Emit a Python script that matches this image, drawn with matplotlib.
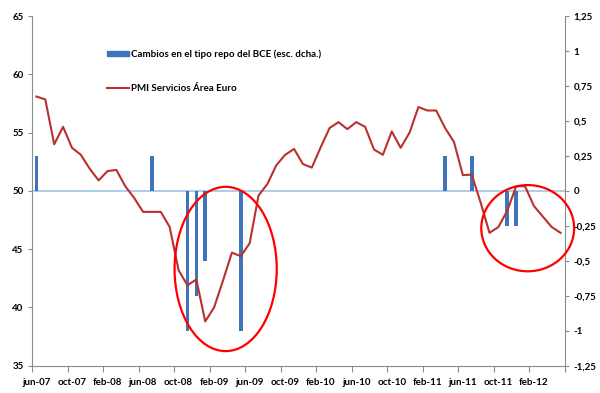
import numpy as np
import pandas as pd
import matplotlib
matplotlib.use("Agg")
import matplotlib.pyplot as plt
from matplotlib.patches import Ellipse, Patch
from matplotlib.lines import Line2D

plt.rcParams['font.family'] = ['Lato', 'DejaVu Sans']

# monthly categories jun-07 .. may-12
months = pd.date_range('2007-06-01', periods=60, freq='MS')

# PMI servicios area euro (left axis)
pmi = [58.1, 57.85, 54.0, 55.5, 53.7, 53.1, 51.9, 50.9, 51.7, 51.8,
       50.4, 49.4, 48.2, 48.2, 48.2, 46.9, 43.2, 41.9, 42.4, 38.8,
       40.0, 42.3, 44.7, 44.4, 45.5, 49.6, 50.6, 52.2, 53.1, 53.6,
       52.3, 52.0, 53.75, 55.4, 55.9, 55.3, 55.9, 55.5, 53.55, 53.1,
       55.1, 53.7, 55.0, 57.2, 56.9, 56.9, 55.4, 54.2, 51.35, 51.4,
       49.0, 46.4, 46.9, 48.3, 50.4, 50.4, 48.7, 47.8, 46.9, 46.4]

# cambios en el tipo repo del BCE (right axis)
bce_months = ['2007-06', '2008-07', '2008-11', '2008-12', '2009-01',
              '2009-05', '2011-04', '2011-07', '2011-11', '2011-12']
bce_changes = [0.25, 0.25, -1.0, -0.75, -0.5, -1.0, 0.25, 0.25, -0.25, -0.25]

tick_labels = ['jun-07', 'oct-07', 'feb-08', 'jun-08', 'oct-08', 'feb-09',
               'jun-09', 'oct-09', 'feb-10', 'jun-10', 'oct-10', 'feb-11',
               'jun-11', 'oct-11', 'feb-12']
right_ticks = [1.25, 1, 0.75, 0.5, 0.25, 0, -0.25, -0.5, -0.75, -1, -1.25]

x = np.arange(len(months))
bar_x = [months.get_loc(pd.Timestamp(m + '-01')) for m in bce_months]

red = '#B8312F'
blue = '#3F74BA'
gray = '#8C8C8C'

fig = plt.figure(figsize=(6.0, 3.93), dpi=100)
ax = fig.add_axes([0.0533, 0.0695, 0.8884, 0.8895])
ax2 = ax.twinx()

ax2.axhline(0, color='#A9C8E8', lw=1.3, zorder=1)
ax2.bar(bar_x, bce_changes, width=0.4, color=blue, zorder=2)
ax2.set_ylim(-1.25, 1.25)
ax2.set_yticks(right_ticks)
ax2.set_yticklabels([('%g' % v).replace('.', ',') for v in right_ticks])

ax.plot(x, pmi, color=red, lw=1.5, zorder=3)
ax.set_ylim(35, 65)
ax.set_yticks(range(35, 66, 5))
ax.set_xlim(-0.5, 59.5)
ax.set_zorder(ax2.get_zorder() + 1)
ax.patch.set_visible(False)

# x ticks between categories, labels on category centres
ax.set_xticks(np.arange(-0.5, 60, 4))
ax.set_xticklabels([])
ax.set_xticks(np.arange(0, 60, 4), minor=True)
ax.set_xticklabels(tick_labels, minor=True)
ax.tick_params(axis='x', which='major', length=4, color=gray, direction='out')
ax.tick_params(axis='x', which='minor', length=0, pad=9)

for a in (ax, ax2):
    a.spines['top'].set_visible(False)
    for s in ('left', 'right', 'bottom'):
        a.spines[s].set_color(gray)
    for lab in a.get_xticklabels(minor=True) + a.get_yticklabels():
        lab.set_fontweight('bold')
        lab.set_fontsize(7)
ax.spines['right'].set_visible(False)
ax2.spines['left'].set_visible(False)
ax2.spines['bottom'].set_visible(False)
ax.tick_params(axis='y', length=3, color=gray, pad=3)
ax2.tick_params(axis='y', length=3, color=gray, pad=3)

# red circles highlighting the episodes
ax.add_patch(Ellipse((21.3, 43.3), 11.5, 14.1, fill=False, edgecolor='#FF0000',
                     lw=1.6, clip_on=False, zorder=5))
ax.add_patch(Ellipse((55.3, 46.8), 10.45, 7.4, fill=False, edgecolor='#FF0000',
                     lw=1.6, clip_on=False, zorder=5))

handles = [Patch(color=blue), Line2D([], [], color=red, lw=1.5)]
labels = ['Cambios en el tipo repo del BCE (esc. dcha.)', 'PMI Servicios Área Euro']
leg = ax.legend(handles, labels, loc='upper left', bbox_to_anchor=(0.125, 0.93),
                frameon=False, labelspacing=2.6, handlelength=2.2,
                handleheight=0.5, handletextpad=0.2,
                prop={'size': 7, 'weight': 'bold'})

fig.savefig('out.png', dpi=100)
